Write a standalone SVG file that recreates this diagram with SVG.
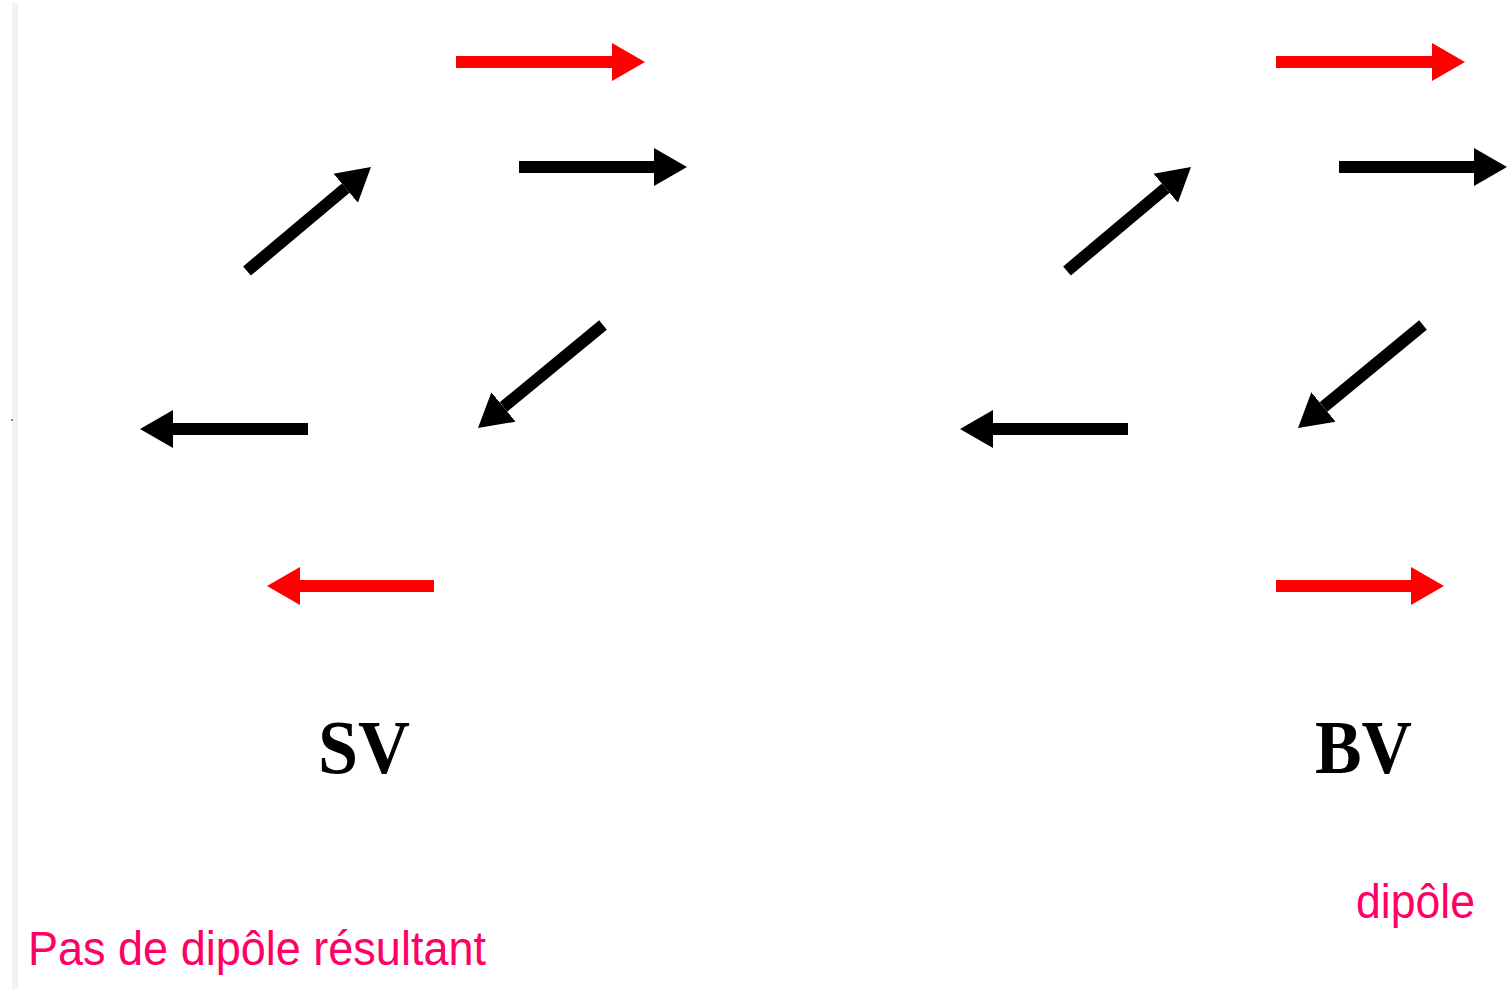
<svg xmlns="http://www.w3.org/2000/svg" width="1512" height="989" viewBox="0 0 1512 989">
  <style>
    .red { stroke: #ff0000; stroke-width: 12; fill: none; }
    .blk { stroke: #000000; stroke-width: 12; fill: none; }
    .lbl { font-family: "Liberation Serif", "Times New Roman", serif; font-weight: bold; font-size: 76px; fill: #000000; }
    .note { font-family: "Liberation Sans", Arial, sans-serif; font-size: 49px; fill: #ff0066; }
  </style>
  <defs>
    <marker id="hr" markerUnits="userSpaceOnUse" markerWidth="34" markerHeight="40" refX="0" refY="19" orient="auto" viewBox="0 0 34 38">
      <path d="M0,0 L33,19 L0,38 z" fill="#ff0000"/>
    </marker>
    <marker id="hb" markerUnits="userSpaceOnUse" markerWidth="34" markerHeight="40" refX="0" refY="19" orient="auto" viewBox="0 0 34 38">
      <path d="M0,0 L33,19 L0,38 z" fill="#000000"/>
    </marker>
  </defs>
  <rect width="1512" height="989" fill="#ffffff"/>
  <rect x="12" y="3" width="6" height="986" fill="#f2f2f2"/>
  <rect x="11" y="419" width="2" height="2" fill="#888888"/>

  <g id="connectors">
    <g id="sv-arrows">
      <line class="red" x1="456" y1="62" x2="612" y2="62" marker-end="url(#hr)"/>
      <line class="blk" x1="519" y1="167" x2="654" y2="167" marker-end="url(#hb)"/>
      <line class="blk" x1="247" y1="271" x2="345.7" y2="188.2" marker-end="url(#hb)"/>
      <line class="blk" x1="603" y1="325" x2="503.5" y2="407" marker-end="url(#hb)"/>
      <line class="blk" x1="308" y1="429" x2="173" y2="429" marker-end="url(#hb)"/>
      <line class="red" x1="434" y1="586" x2="300" y2="586" marker-end="url(#hr)"/>
    </g>
    <g id="bv-arrows">
      <line class="red" x1="1276" y1="62" x2="1432" y2="62" marker-end="url(#hr)"/>
      <line class="blk" x1="1339" y1="167" x2="1474" y2="167" marker-end="url(#hb)"/>
      <line class="blk" x1="1067" y1="271" x2="1165.7" y2="188.2" marker-end="url(#hb)"/>
      <line class="blk" x1="1423" y1="325" x2="1323.5" y2="407" marker-end="url(#hb)"/>
      <line class="blk" x1="1128" y1="429" x2="993" y2="429" marker-end="url(#hb)"/>
      <line class="red" x1="1276" y1="586" x2="1411" y2="586" marker-end="url(#hr)"/>
    </g>
  </g>

  <g id="label-sv">
    <text class="lbl" x="318" y="773" textLength="92" lengthAdjust="spacingAndGlyphs">SV</text>
  </g>
  <g id="label-bv">
    <text class="lbl" x="1315" y="773" textLength="97" lengthAdjust="spacingAndGlyphs">BV</text>
  </g>
  <g id="note-sv">
    <text class="note" x="28" y="965" textLength="458" lengthAdjust="spacingAndGlyphs">Pas de dipôle résultant</text>
  </g>
  <g id="note-bv">
    <text class="note" x="1356" y="918" textLength="119" lengthAdjust="spacingAndGlyphs">dipôle</text>
  </g>
</svg>
